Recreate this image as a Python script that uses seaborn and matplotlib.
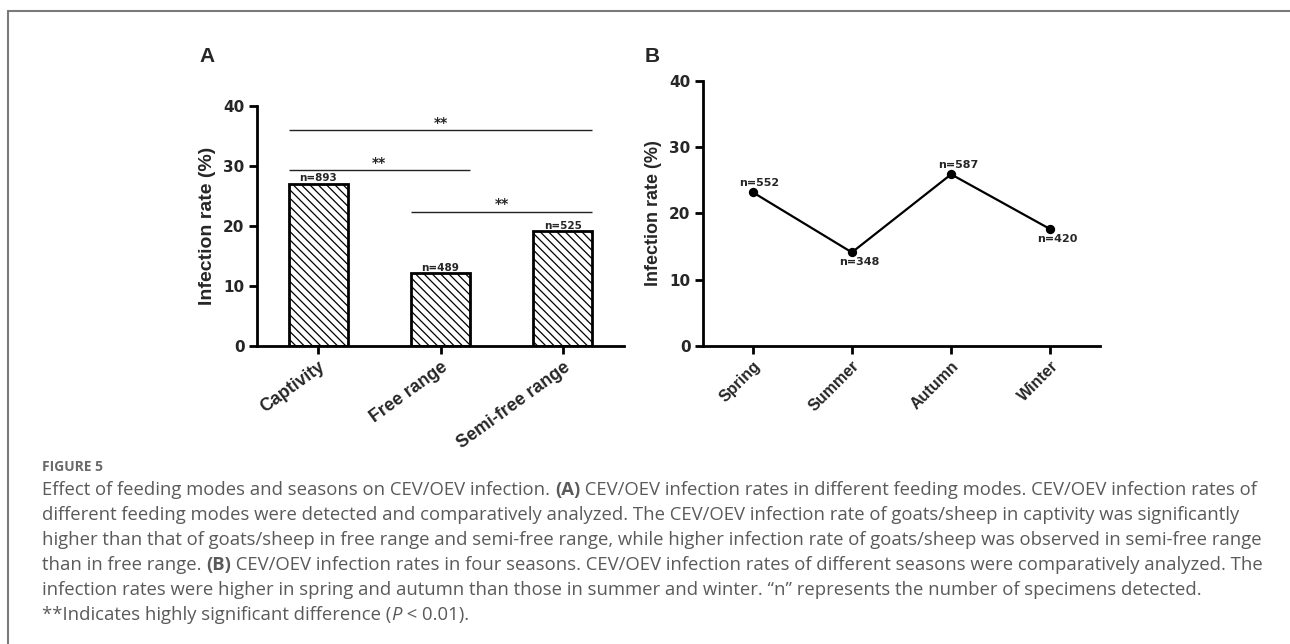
import matplotlib
matplotlib.use("Agg")
import matplotlib.pyplot as plt
import seaborn as sns
import pandas as pd
from matplotlib.lines import Line2D

# ---------------- data ----------------
feeding_modes = ["Captivity", "Free range", "Semi-free range"]
feeding_rates = [27.0, 12.1, 19.1]
feeding_n = ["n=893", "n=489", "n=525"]
sig_pairs = [(0, 2), (0, 1), (1, 2)]
sig_heights = [36.0, 29.3, 22.4]
sig_labels = ["**", "**", "**"]

seasons = ["Spring", "Summer", "Autumn", "Winter"]
season_rates = [23.2, 14.1, 25.9, 17.6]
season_n = ["n=552", "n=348", "n=587", "n=420"]
season_n_above = [True, False, True, False]

y_ticks = [0, 10, 20, 30, 40]
y_label = "Infection rate (%)"

caption_title = "FIGURE 5"
caption_lines = [
    [("Effect of feeding modes and seasons on CEV/OEV infection. ", "normal"), ("(A)", "bold"),
     (" CEV/OEV infection rates in different feeding modes. CEV/OEV infection rates of", "normal")],
    [("different feeding modes were detected and comparatively analyzed. The CEV/OEV infection rate of goats/sheep in captivity was significantly", "normal")],
    [("higher than that of goats/sheep in free range and semi-free range, while higher infection rate of goats/sheep was observed in semi-free range", "normal")],
    [("than in free range. ", "normal"), ("(B)", "bold"),
     (" CEV/OEV infection rates in four seasons. CEV/OEV infection rates of different seasons were comparatively analyzed. The", "normal")],
    [("infection rates were higher in spring and autumn than those in summer and winter. \u201cn\u201d represents the number of specimens detected.", "normal")],
    [("**Indicates highly significant difference (", "normal"), ("P", "italic"), (" < 0.01).", "normal")],
]

# ---------------- style ----------------
sns.set_theme(style="ticks")
plt.rcParams['font.family'] = ['Liberation Sans', 'DejaVu Sans']
plt.rcParams['hatch.linewidth'] = 0.9
plt.rcParams['hatch.color'] = 'black'
wide_font = ["DejaVu Sans"]

W, H = 1290, 644
fig = plt.figure(figsize=(W / 100, H / 100), dpi=100)
fig.patch.set_facecolor("white")

def fx(px):
    return px / W

def fy(py):
    return 1 - py / H

axA = fig.add_axes([fx(257), fy(346), fx(624 - 257), (346 - 106) / H])
axB = fig.add_axes([fx(703), fy(345.7), fx(1100 - 703), (345.7 - 81) / H])

# ---------------- panel A ----------------
dfA = pd.DataFrame({"mode": feeding_modes, "rate": feeding_rates})
sns.barplot(data=dfA, x="mode", y="rate", ax=axA, color="white", saturation=1,
            edgecolor="black", linewidth=2, width=0.48, hatch='\\\\\\\\')
half = 0.24
for (i, j), h, lab in zip(sig_pairs, sig_heights, sig_labels):
    x0, x1 = i - half, j + half
    axA.plot([x0, x1], [h, h], color="#222222", lw=1.0, solid_capstyle="butt")
    axA.annotate(lab, ((x0 + x1) / 2, h), xytext=(0, 2.5), textcoords="offset points",
                 ha="center", va="baseline", fontsize=10, fontweight="bold", family=wide_font)
for i, (r, n) in enumerate(zip(feeding_rates, feeding_n)):
    axA.annotate(n, (i, r), xytext=(0, 0.5), textcoords="offset points",
                 ha="center", va="bottom", fontsize=7.5, fontweight="bold", family=wide_font)
axA.set_xlim(-0.5, 2.5)
axA.set_ylabel(y_label, fontsize=14, fontweight="bold", labelpad=5)

# ---------------- panel B ----------------
dfB = pd.DataFrame({"season": seasons, "rate": season_rates})
sns.pointplot(data=dfB, x="season", y="rate", ax=axB, color="black",
              markers="o", linestyles="-", markersize=5.5, linewidth=1.6)
for i, (r, n, up) in enumerate(zip(season_rates, season_n, season_n_above)):
    axB.annotate(n, (i, r), xytext=(5, 3 if up else -3.5), textcoords="offset points",
                 ha="center", va="bottom" if up else "top", fontsize=8, fontweight="bold",
                 family=wide_font)
axB.set_xlim(-0.5, 3.5)
axB.set_ylabel(y_label, fontsize=13, fontweight="bold", labelpad=5)

for ax, labels, rot, xsize in ((axA, feeding_modes, 36, 12.8), (axB, seasons, 45, 11.5)):
    ax.set_ylim(0, 40)
    ax.set_yticks(y_ticks)
    ax.set_yticklabels([str(t) for t in y_ticks], fontsize=11, fontweight="bold", family=wide_font)
    ax.set_xticks(range(len(labels)))
    ax.set_xticklabels(labels, rotation=rot, ha="right", rotation_mode="anchor",
                       fontsize=xsize, fontweight="bold")
    ax.set_xlabel("")
    for s in ("top", "right"):
        ax.spines[s].set_visible(False)
    for s in ("left", "bottom"):
        ax.spines[s].set_linewidth(2)
        ax.spines[s].set_color("black")
    ax.tick_params(axis="both", width=2, length=6, color="black", pad=3)
    ax.set_facecolor("white")

fig.text(fx(207), fy(56), "A", ha="center", va="center", fontsize=15, fontweight="bold")
fig.text(fx(652), fy(56), "B", ha="center", va="center", fontsize=15, fontweight="bold")

# ---------------- frame ----------------
fig.add_artist(Line2D([fx(7.5), fx(7.5)], [0, fy(10.5)], transform=fig.transFigure,
                      color="#7a7a7a", lw=1.5))
fig.add_artist(Line2D([fx(7.5), 1], [fy(10.5), fy(10.5)], transform=fig.transFigure,
                      color="#7a7a7a", lw=1.5))

# ---------------- caption ----------------
cap_font = ["Open Sans", "DejaVu Sans"]
cap_color = "#5a5a5a"
fig.text(fx(42), fy(467), caption_title, ha="left", va="center", fontsize=10,
         fontweight="bold", color="#6a6a6a", family=cap_font)

renderer = fig.canvas.get_renderer()

def seg_width(txt, size, weight, style):
    t1 = fig.text(0, 0, txt + "|", fontsize=size, fontweight=weight, fontstyle=style, family=cap_font)
    t2 = fig.text(0, 0, "|", fontsize=size, fontweight=weight, fontstyle=style, family=cap_font)
    w = t1.get_window_extent(renderer).width - t2.get_window_extent(renderer).width
    t1.remove(); t2.remove()
    return w

# font size chosen so the first caption line spans its reference width (42 -> 1257 px)
base = 11.0
w1 = sum(seg_width(s, base, "bold" if st == "bold" else "normal",
                   "italic" if st == "italic" else "normal") for s, st in caption_lines[0])
cap_size = base * (1257 - 42) / w1

line_y = [490, 515, 540, 565, 590, 615]
for segs, yy in zip(caption_lines, line_y):
    x = 42.0
    for s, st in segs:
        wt = "bold" if st == "bold" else "normal"
        sty = "italic" if st == "italic" else "normal"
        fig.text(fx(x), fy(yy), s, ha="left", va="center", fontsize=cap_size,
                 fontweight=wt, fontstyle=sty, color=cap_color, family=cap_font)
        x += seg_width(s, cap_size, wt, sty)

fig.savefig("out.png", dpi=100, facecolor="white")
